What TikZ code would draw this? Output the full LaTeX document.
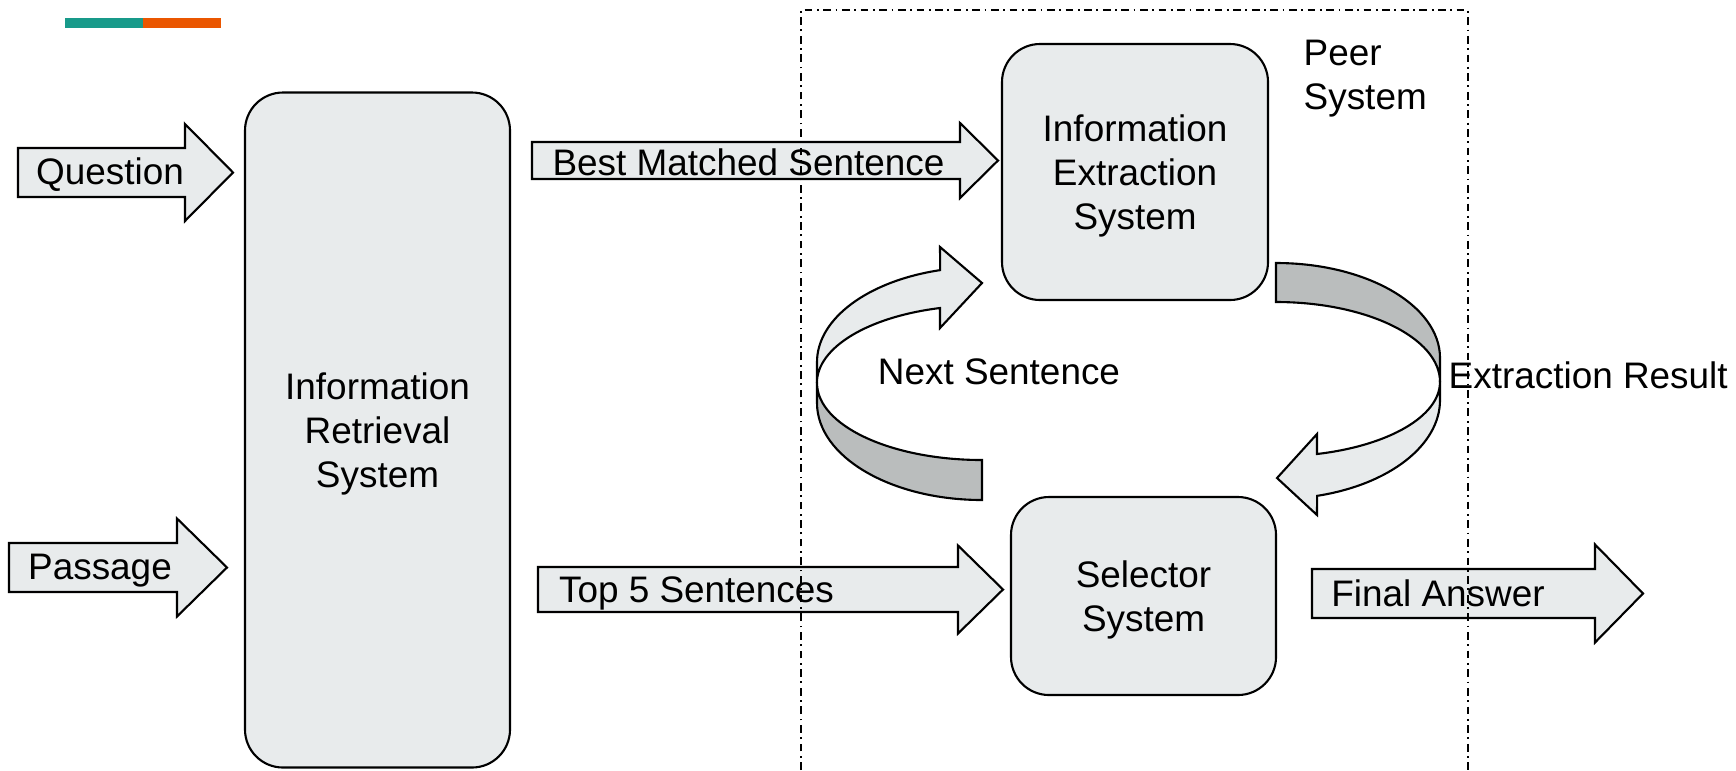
\documentclass[tikz,border=0pt]{standalone}
\usepackage{fontspec}
\setmainfont{Liberation Sans}
\usetikzlibrary{positioning}
\definecolor{boxfill}{RGB}{232,235,236}
\definecolor{bandgray}{RGB}{186,189,189}
\definecolor{tealbar}{RGB}{24,154,138}
\definecolor{orangebar}{RGB}{234,86,0}
% block arrow: left x, head x, tip x, mid y, half body, half head
\newcommand{\blockarrow}[6]{%
  \draw[barrow] (#1,#4+#5) -- (#2,#4+#5) -- (#2,#4+#6) -- (#3,#4)
    -- (#2,#4-#6) -- (#2,#4-#5) -- (#1,#4-#5) -- cycle;}
\tikzset {
  sysbox/.style = {
    draw = black,
    fill = boxfill,
    line width = 0.6pt,
    rounded corners = 0.38cm,
    align = center,
    text depth = 0pt,
    font = \fontsize{10.5}{12.5}\selectfont
  },
  barrow/.style = {
    draw = black,
    fill = boxfill,
    line width = 0.6pt
  },
  % curved ribbon arrows
  ribbon/.style = {
    draw = black,
    fill = boxfill,
    line width = 0.6pt
  },
  ribbon back/.style = {
    ribbon,
    fill = bandgray
  },
  txt/.style = {
    inner sep = 0,
    align = left,
    font = \fontsize{10.5}{12.5}\selectfont
  },
  peerframe/.style = {
    draw = black,
    line width = 0.4pt,
    dash pattern = on 2.2pt off 1.3pt on 0.5pt off 1.3pt
  }
}

\begin{document}
\begin{tikzpicture}
  \useasboundingbox (0,0) rectangle (17.36,-7.70);

  \fill[tealbar] (0.65,-0.18) rectangle (1.43,-0.28);
  \fill[orangebar] (1.43,-0.18) rectangle (2.21,-0.28);

  \node[sysbox, minimum width=2.65cm, minimum height=6.75cm] (ir) at (3.775,-4.30)
    {Information\\Retrieval\\System};
  \node[sysbox, minimum width=2.66cm, minimum height=2.56cm] (ie) at (11.35,-1.72)
    {Information\\Extraction\\System};
  \node[sysbox, minimum width=2.65cm, minimum height=1.98cm] (sel) at (11.435,-5.96)
    {Selector\\System};

  \blockarrow{0.18}{1.85}{2.33}{-1.725}{0.245}{0.485}
  \blockarrow{0.09}{1.77}{2.27}{-5.675}{0.245}{0.49}
  \blockarrow{5.32}{9.60}{9.98}{-1.605}{0.185}{0.375}
  \blockarrow{5.38}{9.58}{10.03}{-5.895}{0.225}{0.44}
  \blockarrow{13.12}{15.95}{16.43}{-5.935}{0.245}{0.49}

  \node[txt] (question) at (1.10,-1.75) {Question};
  \node[txt] (passage) at (1.00,-5.71) {Passage};
  \node[txt] (bestmatch) at (7.485,-1.62) {Best Matched Sentence};
  \node[txt] (top5) at (6.965,-5.93) {Top 5 Sentences};
  \node[txt] (answer) at (14.38,-5.93) {Final Answer};

  % next sentence loop
  \draw[ribbon back] (8.17,-3.83) -- (8.17,-4.03)
    arc[start angle=180, end angle=270, x radius=1.65, y radius=0.97]
    -- (9.82,-4.60)
    arc[start angle=270, end angle=180, x radius=1.65, y radius=0.77]
    -- cycle;
  \draw[ribbon] (9.82,-2.83) -- (9.40,-3.28) -- (9.40,-3.08)
    arc[start angle=104.7, end angle=180, x radius=1.65, y radius=0.776]
    -- (8.17,-3.62)
    arc[start angle=180, end angle=104.7, x radius=1.65, y radius=0.95]
    -- (9.40,-2.47) -- cycle;

  % extraction result loop
  \draw[ribbon back] (12.76,-2.63)
    arc[start angle=90, end angle=0, x radius=1.64, y radius=0.95]
    -- (14.40,-3.82)
    arc[start angle=0, end angle=90, x radius=1.64, y radius=0.80]
    -- cycle;
  \draw[ribbon] (14.40,-3.82) -- (14.40,-4.00)
    arc[start angle=0, end angle=-75.5, x radius=1.64, y radius=0.99]
    -- (13.17,-5.15) -- (12.77,-4.78) -- (13.17,-4.34) -- (13.17,-4.54)
    arc[start angle=-75.5, end angle=0, x radius=1.64, y radius=0.744]
    -- cycle;

  \node[txt] (nextsent) at (9.99,-3.72) {Next Sentence};
  \node[txt, anchor=west] (extresult) at (14.48,-3.75) {Extraction Result};
  \node[txt, anchor=west] (peer) at (13.03,-0.79) {Peer\\System};

  \draw[peerframe] (8.01,-7.70) |- (14.68,-0.10) -- (14.68,-7.70);
\end{tikzpicture}
\end{document}
